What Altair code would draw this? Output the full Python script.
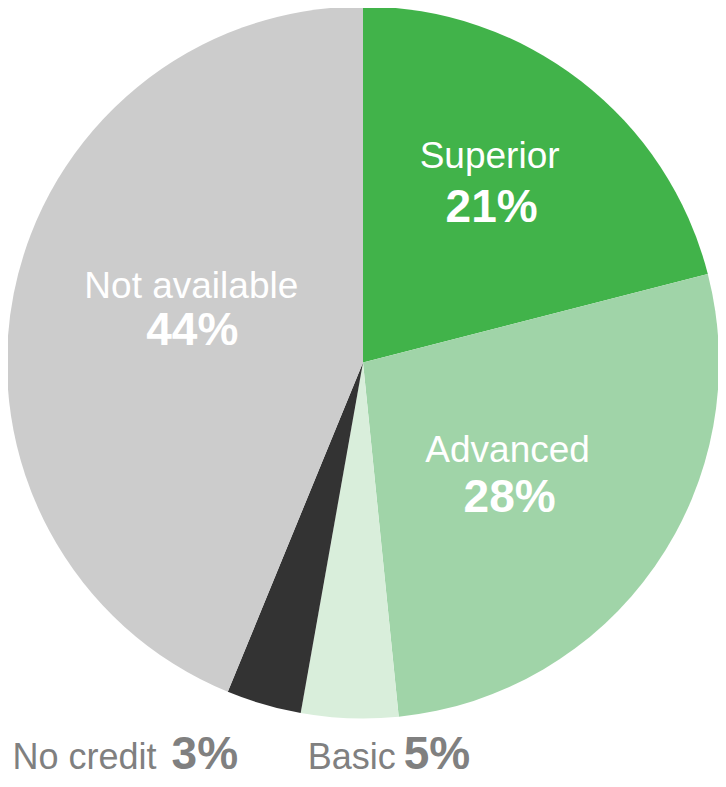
import altair as alt
import pandas as pd

categories = ["Superior", "Advanced", "Basic", "No credit", "Not available"]
values = [21.0, 27.4, 4.4, 3.4, 43.8]
pct_labels = ["21%", "28%", "5%", "3%", "44%"]
colors = ["#41b34a", "#a0d4a8", "#d9eedb", "#333333", "#cccccc"]

df = pd.DataFrame({
    "category": categories,
    "value": values,
    "pct": pct_labels,
    "order": list(range(len(categories))),
})

FONT = "Liberation Sans"
theta_scale = alt.Scale(domain=[0, 100])

base = alt.Chart(df)

arcs = base.mark_arc(outerRadius=356, stroke=None).encode(
    theta=alt.Theta("value:Q", stack=True, scale=theta_scale),
    color=alt.Color("category:N", scale=alt.Scale(domain=categories, range=colors), legend=None),
    order=alt.Order("order:Q"),
)

stacked = base.transform_window(
    cum="sum(value)", sort=[alt.SortField("order")], frame=[None, 0]
).transform_calculate(mid="datum.cum - datum.value / 2")


def label(cat, field, r, dx, dy, size, bold, align, color):
    return stacked.transform_filter(alt.datum.category == cat).mark_text(
        radius=r, dx=dx, dy=dy, fontSize=size, font=FONT,
        fontWeight="bold" if bold else "normal", align=align,
        baseline="alphabetic", color=color,
    ).encode(
        theta=alt.Theta("mid:Q", stack=None, scale=theta_scale),
        text=alt.Text(f"{field}:N"),
    )


W = "white"
G = "#808080"
layers = [
    arcs,
    label("Superior", "category", 218, -7, -22, 37, False, "center", W),
    label("Superior", "pct", 218, -5, 32, 46, True, "center", W),
    label("Advanced", "category", 180, -3, -4, 37, False, "center", W),
    label("Advanced", "pct", 180, -1, 46, 46, True, "center", W),
    label("Not available", "category", 175, 0, -31, 37, False, "center", W),
    label("Not available", "pct", 175, 1, 16, 46, True, "center", W),
    label("No credit", "category", 410, -92, 13, 36, False, "right", G),
    label("No credit", "pct", 410, -77, 13, 46, True, "left", G),
    label("Basic", "category", 405, 48, 2, 36, False, "right", G),
    label("Basic", "pct", 405, 56, 2, 46, True, "left", G),
]

chart = alt.layer(*layers).properties(
    width=710,
    height=709,
    padding={"left": 0, "top": 0, "right": 0, "bottom": 62},
    autosize=alt.AutoSizeParams(type="none"),
).configure_view(stroke=None)

chart.save("out.html", embed_options={"renderer": "svg", "actions": False})
